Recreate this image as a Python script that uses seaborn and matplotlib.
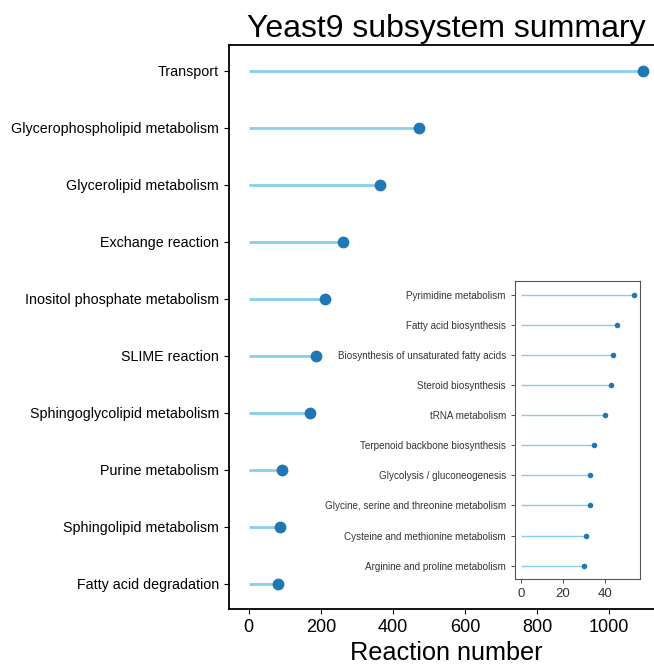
import pandas as pd
import matplotlib
matplotlib.use("Agg")
import matplotlib.pyplot as plt
import seaborn as sns

plt.rcParams['font.family'] = ['Liberation Sans', 'DejaVu Sans']

# top 10 subsystems
main_names = ['Transport', 'Glycerophospholipid metabolism', 'Glycerolipid metabolism',
              'Exchange reaction', 'Inositol phosphate metabolism', 'SLIME reaction',
              'Sphingoglycolipid metabolism', 'Purine metabolism',
              'Sphingolipid metabolism', 'Fatty acid degradation']
main_counts = [1094, 472, 365, 261, 213, 188, 169, 92, 88, 81]

# next 10 subsystems (inset)
inset_names = ['Pyrimidine metabolism', 'Fatty acid biosynthesis',
               'Biosynthesis of unsaturated fatty acids', 'Steroid biosynthesis',
               'tRNA metabolism', 'Terpenoid backbone biosynthesis',
               'Glycolysis / gluconeogenesis', 'Glycine, serine and threonine metabolism',
               'Cysteine and methionine metabolism', 'Arginine and proline metabolism']
inset_counts = [54, 46, 44, 43, 40, 35, 33, 33, 31, 30]

df_main = pd.DataFrame({'subsystem': main_names, 'n': main_counts})
df_inset = pd.DataFrame({'subsystem': inset_names, 'n': inset_counts})

fig = plt.figure(figsize=(6.54, 6.65), dpi=100)
ax = fig.add_axes([0.350, 0.084, 0.6636, 0.848])

ax.hlines(y=range(len(df_main)), xmin=0, xmax=df_main['n'], color='skyblue', linewidth=2, zorder=0)
sns.stripplot(data=df_main, x='n', y='subsystem', jitter=False, color='#1f77b4', size=8.5,
              orient='h', ax=ax, zorder=3)
ax.set_xlim(-54.7, 1148.7)
ax.set_ylim(len(df_main) - 0.55, -0.45)
ax.set_title('Yeast9 subsystem summary', fontsize=23)
ax.set_xlabel('Reaction number', fontsize=18.2)
ax.set_ylabel('')
ax.tick_params(axis='y', labelsize=10.3)
ax.tick_params(axis='x', labelsize=13)
for s in ax.spines.values():
    s.set_linewidth(1.3)

# inset
axi = fig.add_axes([0.7875, 0.129, 0.191, 0.448])
axi.hlines(y=range(len(df_inset)), xmin=0, xmax=df_inset['n'], color='skyblue', linewidth=1, zorder=0)
sns.stripplot(data=df_inset, x='n', y='subsystem', jitter=False, color='#1f77b4', size=4,
              orient='h', ax=axi, zorder=3)
axi.set_xlim(-2.8, 56.8)
axi.set_ylim(len(df_inset) - 0.55, -0.45)
axi.set_xlabel('')
axi.set_ylabel('')
axi.set_xticks([0, 20, 40])
axi.tick_params(axis='y', labelsize=7.1, width=0.6, length=3, colors='#333333')
axi.tick_params(axis='x', labelsize=9.5, width=0.6, length=3, colors='#333333')
for s in axi.spines.values():
    s.set_linewidth(0.8)
    s.set_color('#555555')

fig.savefig('out.png', dpi=100)
